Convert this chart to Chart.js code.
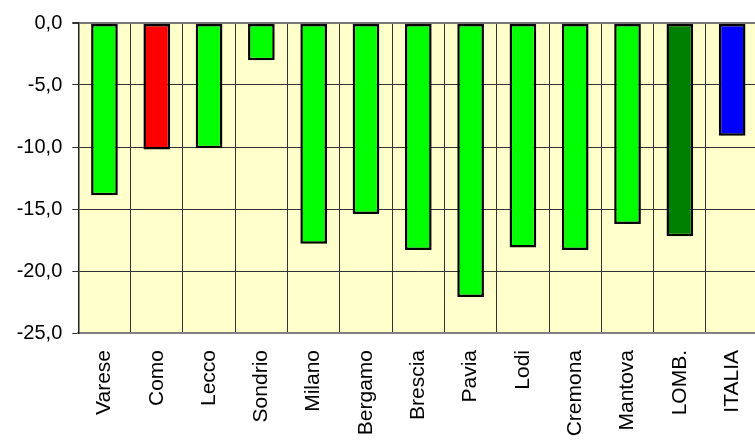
<!DOCTYPE html>
<html>
<head>
<meta charset="utf-8">
<script src="https://cdn.jsdelivr.net/npm/chart.js@4/dist/chart.umd.min.js"></script>
<style>
  html, body { margin: 0; padding: 0; background: #ffffff; overflow: hidden; width: 755px; height: 441px; }
  canvas { display: block; }
</style>
</head>
<body>
<canvas id="c" width="760" height="441" style="width:760px;height:441px"></canvas>
<script>
const categories = ["Varese", "Como", "Lecco", "Sondrio", "Milano", "Bergamo", "Brescia", "Pavia", "Lodi", "Cremona", "Mantova", "LOMB.", "ITALIA"];
const values = [-13.9, -10.2, -10.1, -3.0, -17.8, -15.4, -18.3, -22.1, -18.1, -18.3, -16.2, -17.2, -9.1];
const yTicks = [0, -5, -10, -15, -20, -25];
const barColors = ["#00ff00", "#ff0000", "#00ff00", "#00ff00", "#00ff00", "#00ff00", "#00ff00", "#00ff00", "#00ff00", "#00ff00", "#00ff00", "#008000", "#0000ff"];

const plotBg = {
  id: 'plotBg',
  beforeDraw(chart) {
    const a = chart.chartArea, ctx = chart.ctx;
    ctx.save();
    ctx.fillStyle = '#ffffcc';
    ctx.fillRect(a.left, a.top, a.right - a.left, a.bottom - a.top);
    ctx.restore();
  }
};

new Chart(document.getElementById('c'), {
  type: 'bar',
  data: {
    labels: categories,
    datasets: [{
      data: values,
      backgroundColor: barColors,
      borderColor: '#000000',
      borderWidth: 2.5,
      borderSkipped: false,
      barPercentage: 0.51,
      categoryPercentage: 1.0
    }]
  },
  options: {
    responsive: false,
    animation: false,
    devicePixelRatio: 1,
    layout: { padding: { top: 23, right: 1.7, left: 0, bottom: 0 } },
    plugins: { legend: { display: false }, tooltip: { enabled: false } },
    scales: {
      x: {
        afterFit(scale) { scale.height = 108; scale.paddingRight = 0; scale.paddingLeft = 0; },
        grid: { offset: true, color: '#333333', lineWidth: 1, tickLength: 0, drawTicks: false },
        border: { color: '#808080', width: 2 },
        ticks: {
          minRotation: 90, maxRotation: 90, padding: 17,
          color: '#000000',
          font: { family: "'Liberation Sans', Arial, sans-serif", size: 21 }
        }
      },
      y: {
        min: -25, max: 0,
        afterFit(scale) { scale.width = 78.3; },
        afterBuildTicks(scale) { scale.ticks = yTicks.map(v => ({ value: v })); },
        grid: {
          color: (ctx) => (ctx.tick && ctx.tick.value === 0) ? '#777777' : '#333333',
          lineWidth: (ctx) => (ctx.tick && ctx.tick.value === 0) ? 2 : 1,
          tickLength: 6,
          tickColor: '#333333'
        },
        border: { color: '#222222', width: 1.5 },
        ticks: {
          padding: 10,
          color: '#000000',
          font: { family: "'Liberation Sans', Arial, sans-serif", size: 20 },
          callback: (v) => v.toFixed(1).replace('.', ',')
        }
      }
    }
  },
  plugins: [plotBg]
});
</script>
</body>
</html>
